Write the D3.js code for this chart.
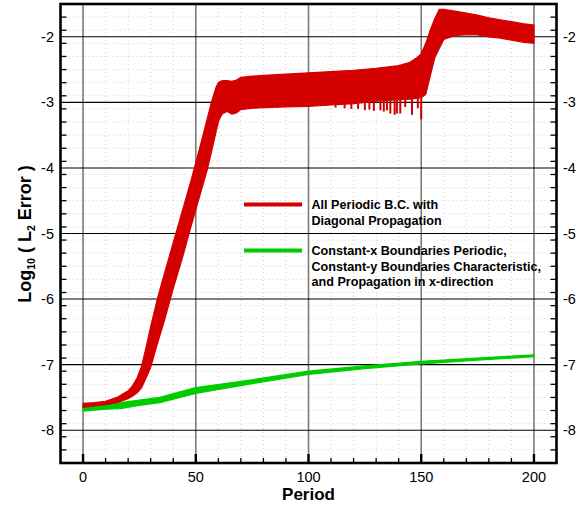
<!DOCTYPE html>
<html>
<head>
<meta charset="utf-8">
<script src="https://cdn.jsdelivr.net/npm/d3@7"></script>
<style>
  html, body { margin: 0; padding: 0; background: #fff; }
  svg { display: block; font-family: "Liberation Sans", Arial, Helvetica, sans-serif; }
</style>
</head>
<body>
<svg id="chart" width="581" height="506"></svg>
<script>
// Red run: all periodic B.C. with diagonal propagation (oscillation envelope)
const redPeriod = [0, 5, 10, 15, 20, 22, 24, 26, 28, 30, 33, 36, 40, 44, 48, 52, 55, 57, 59, 60, 61, 62, 64, 66, 68, 70, 75, 80, 90, 100, 110, 120, 130, 140, 145, 148, 150, 152, 154, 156, 158, 160, 165, 170, 175, 180, 185, 190, 195, 200];
const redUpper = [-7.59, -7.58, -7.56, -7.50, -7.40, -7.32, -7.20, -7.02, -6.73, -6.42, -5.99, -5.62, -5.14, -4.66, -4.18, -3.66, -3.26, -2.99, -2.77, -2.70, -2.68, -2.67, -2.67, -2.68, -2.66, -2.62, -2.60, -2.59, -2.57, -2.55, -2.53, -2.51, -2.48, -2.44, -2.39, -2.32, -2.26, -2.10, -1.90, -1.72, -1.58, -1.58, -1.61, -1.64, -1.67, -1.71, -1.74, -1.77, -1.80, -1.82];
const redLower = [-7.65, -7.63, -7.61, -7.58, -7.52, -7.48, -7.43, -7.35, -7.20, -7.04, -6.68, -6.34, -5.84, -5.38, -4.88, -4.40, -4.04, -3.75, -3.45, -3.30, -3.22, -3.17, -3.14, -3.18, -3.16, -3.11, -3.09, -3.08, -3.07, -3.06, -3.04, -3.02, -2.98, -2.96, -2.95, -2.94, -2.93, -2.88, -2.60, -2.32, -2.18, -2.04, -1.98, -1.97, -1.97, -2.00, -2.02, -2.05, -2.08, -2.10];
// Downward excursions of the red run before the jump
const spikePeriod = [112, 116, 119, 122, 125, 127, 129, 131.9, 133.4, 134.8, 136.3, 138.2, 139.2, 140.7, 142.9, 145.9, 148.5, 150];
const spikeValue = [-3.08, -3.09, -3.10, -3.10, -3.12, -3.11, -3.13, -3.12, -3.14, -3.12, -3.17, -3.19, -3.17, -3.17, -3.07, -3.19, -3.09, -3.26];

// Green run: constant-x periodic, constant-y characteristic, x-direction propagation
const greenPeriod = [0, 10, 16.5, 25, 34, 50, 75, 100, 125, 150, 175, 200];
const greenUpper = [-7.62, -7.60, -7.58, -7.54, -7.50, -7.35, -7.23, -7.10, -7.02, -6.95, -6.90, -6.85];
const greenLower = [-7.71, -7.68, -7.67, -7.62, -7.58, -7.44, -7.29, -7.15, -7.06, -6.99, -6.93, -6.88];

const xMajorTicks = [0, 50, 100, 150, 200];
const yMajorTicks = [-8, -7, -6, -5, -4, -3, -2];

const legendRed = ["All Periodic B.C. with", "Diagonal Propagation"];
const legendGreen = ["Constant-x Boundaries Periodic,", "Constant-y Boundaries Characteristic,", "and Propagation in x-direction"];

const RED = "#d40000";
const GREEN = "#00cc00";

const svg = d3.select("#chart");
const L = 60.5, R = 556.5, T = 4, B = 463;
const x = d3.scaleLinear([-10, 210], [L, R]);
const y = d3.scaleLinear([-8.5, -1.5], [B, T]);

const xMinor = d3.range(-10, 211, 10);
const yMinor = d3.range(-85, -14, 2).map(v => v / 10);

// dotted minor grid
const g = svg.append("g");
g.selectAll("line.xm").data(xMinor.filter(v => v % 50 !== 0 && v > -10 && v < 210)).join("line")
  .attr("x1", d => x(d)).attr("x2", d => x(d)).attr("y1", T).attr("y2", B)
  .attr("stroke", "#d0d0d0").attr("stroke-width", 1).attr("stroke-dasharray", "1,3");
g.selectAll("line.ym").data(yMinor.filter(v => Math.abs(v - Math.round(v)) > 1e-6)).join("line")
  .attr("x1", L).attr("x2", R).attr("y1", d => y(d)).attr("y2", d => y(d))
  .attr("stroke", "#d0d0d0").attr("stroke-width", 1).attr("stroke-dasharray", "1,3");

// major grid
g.selectAll("line.xg").data(xMajorTicks).join("line")
  .attr("x1", d => x(d)).attr("x2", d => x(d)).attr("y1", T).attr("y2", B)
  .attr("stroke", "#7a7a7a").attr("stroke-width", 1.6);
g.selectAll("line.yg").data(yMajorTicks).join("line")
  .attr("x1", L).attr("x2", R).attr("y1", d => y(d)).attr("y2", d => y(d))
  .attr("stroke", "#000").attr("stroke-width", 1.1);

// bands
const band = (P, U, Lo) => d3.area()
  .x((d, i) => x(P[i])).y0((d, i) => y(Lo[i])).y1((d, i) => y(U[i]))(P);

svg.append("path").attr("d", band(greenPeriod, greenUpper, greenLower))
  .attr("fill", GREEN).attr("stroke", GREEN).attr("stroke-width", 1.2);
svg.append("path").attr("d", band(redPeriod, redUpper, redLower))
  .attr("fill", RED).attr("stroke", RED).attr("stroke-width", 1.2);

const lowerAt = d3.scaleLinear(redPeriod, redLower);
svg.selectAll("line.spike").data(spikePeriod).join("line")
  .attr("x1", d => x(d)).attr("x2", d => x(d))
  .attr("y1", d => y(lowerAt(d))).attr("y2", (d, i) => y(spikeValue[i]))
  .attr("stroke", RED).attr("stroke-width", 2);

// legend
const lg = svg.append("g").attr("font-weight", "bold").attr("font-size", 12.6).attr("fill", "#000");
lg.append("line").attr("x1", 244).attr("x2", 302).attr("y1", 204.5).attr("y2", 204.5)
  .attr("stroke", RED).attr("stroke-width", 4);
legendRed.forEach((t, i) => lg.append("text").attr("x", 311.5).attr("y", 209 + i * 15.7).text(t));
lg.append("line").attr("x1", 244).attr("x2", 302).attr("y1", 250.5).attr("y2", 250.5)
  .attr("stroke", GREEN).attr("stroke-width", 4);
legendGreen.forEach((t, i) => lg.append("text").attr("x", 311.5).attr("y", 255 + i * 15.7).text(t));

// frame
svg.append("rect").attr("x", L).attr("y", T).attr("width", R - L).attr("height", B - T)
  .attr("fill", "none").attr("stroke", "#000").attr("stroke-width", 2.6);

// ticks
const t = svg.append("g").attr("stroke", "#000");
xMinor.filter(v => v > -10 && v < 210).forEach(v => {
  const len = v % 50 === 0 ? 9 : 5;
  t.append("line").attr("x1", x(v)).attr("x2", x(v)).attr("y1", B).attr("y2", B - len)
    .attr("stroke-width", v % 50 === 0 ? 2.4 : 1.3);
});
yMinor.filter(v => v > -8.5 && v < -1.5).forEach(v => {
  const major = Math.abs(v - Math.round(v)) < 1e-6;
  const len = major ? 10 : 6;
  const w = major ? 2.4 : 1.3;
  t.append("line").attr("x1", L).attr("x2", L + len).attr("y1", y(v)).attr("y2", y(v)).attr("stroke-width", w);
  t.append("line").attr("x1", R).attr("x2", R - len).attr("y1", y(v)).attr("y2", y(v)).attr("stroke-width", w);
});

// tick labels
const tl = svg.append("g").attr("font-size", 14.5).attr("fill", "#000");
xMajorTicks.forEach(v => tl.append("text").attr("x", x(v)).attr("y", 482)
  .attr("text-anchor", "middle").text(v));
yMajorTicks.forEach(v => {
  tl.append("text").attr("x", 54).attr("y", y(v) + 5).attr("text-anchor", "end").text(v);
  tl.append("text").attr("x", 563).attr("y", y(v) + 5).attr("text-anchor", "start").text(v);
});

// axis titles
svg.append("text").attr("x", (L + R) / 2).attr("y", 500).attr("text-anchor", "middle")
  .attr("font-weight", "bold").attr("font-size", 17).text("Period");

const yt = svg.append("text").attr("transform", "translate(31,234) rotate(-90)")
  .attr("text-anchor", "middle").attr("font-weight", "bold").attr("font-size", 18);
yt.append("tspan").text("Log");
yt.append("tspan").attr("font-size", 10.5).attr("dy", 4).text("10");
yt.append("tspan").attr("dy", -4).text(" ( L");
yt.append("tspan").attr("font-size", 10.5).attr("dy", 4).text("2");
yt.append("tspan").attr("dy", -4).text(" Error )");
</script>
</body>
</html>
